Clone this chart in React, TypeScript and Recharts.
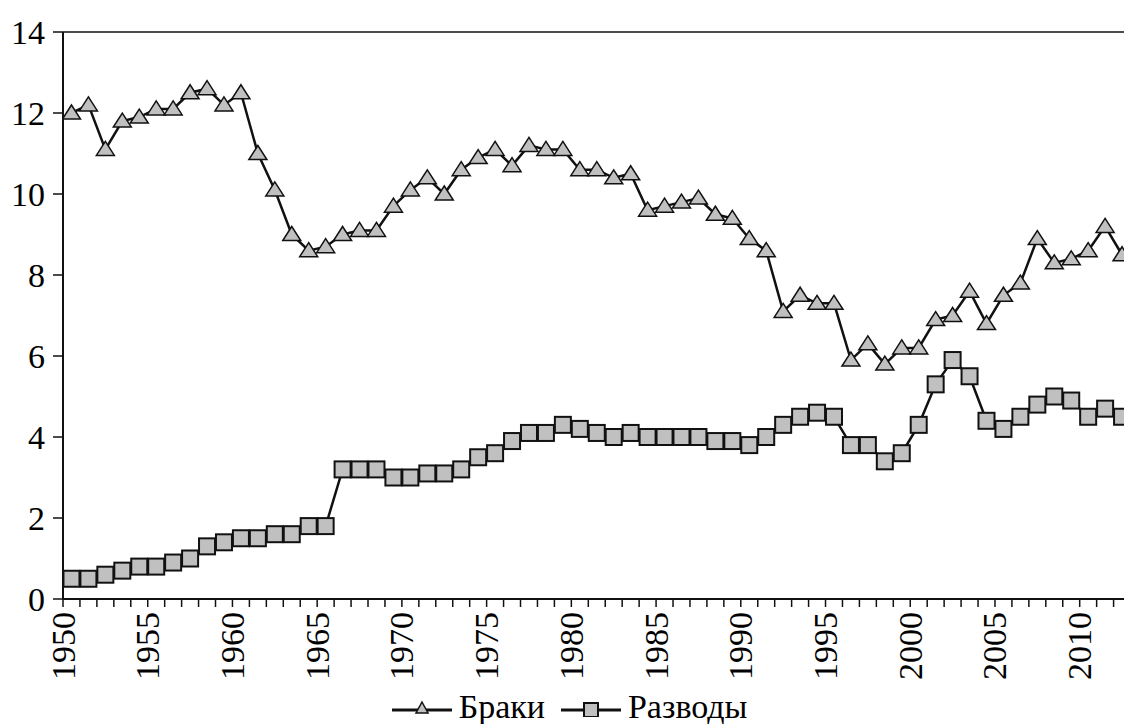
import { LineChart, Line, XAxis, YAxis, ReferenceLine, Legend } from "recharts";

const years = [
  1950, 1951, 1952, 1953, 1954, 1955, 1956, 1957, 1958, 1959,
  1960, 1961, 1962, 1963, 1964, 1965, 1966, 1967, 1968, 1969,
  1970, 1971, 1972, 1973, 1974, 1975, 1976, 1977, 1978, 1979,
  1980, 1981, 1982, 1983, 1984, 1985, 1986, 1987, 1988, 1989,
  1990, 1991, 1992, 1993, 1994, 1995, 1996, 1997, 1998, 1999,
  2000, 2001, 2002, 2003, 2004, 2005, 2006, 2007, 2008, 2009,
  2010, 2011, 2012,
];

// Браки (marriages) per 1000
const marriages = [
  12.0, 12.2, 11.1, 11.8, 11.9, 12.1, 12.1, 12.5, 12.6, 12.2,
  12.5, 11.0, 10.1, 9.0, 8.6, 8.7, 9.0, 9.1, 9.1, 9.7,
  10.1, 10.4, 10.0, 10.6, 10.9, 11.1, 10.7, 11.2, 11.1, 11.1,
  10.6, 10.6, 10.4, 10.5, 9.6, 9.7, 9.8, 9.9, 9.5, 9.4,
  8.9, 8.6, 7.1, 7.5, 7.3, 7.3, 5.9, 6.3, 5.8, 6.2,
  6.2, 6.9, 7.0, 7.6, 6.8, 7.5, 7.8, 8.9, 8.3, 8.4,
  8.6, 9.2, 8.5,
];

// Разводы (divorces) per 1000
const divorces = [
  0.5, 0.5, 0.6, 0.7, 0.8, 0.8, 0.9, 1.0, 1.3, 1.4,
  1.5, 1.5, 1.6, 1.6, 1.8, 1.8, 3.2, 3.2, 3.2, 3.0,
  3.0, 3.1, 3.1, 3.2, 3.5, 3.6, 3.9, 4.1, 4.1, 4.3,
  4.2, 4.1, 4.0, 4.1, 4.0, 4.0, 4.0, 4.0, 3.9, 3.9,
  3.8, 4.0, 4.3, 4.5, 4.6, 4.5, 3.8, 3.8, 3.4, 3.6,
  4.3, 5.3, 5.9, 5.5, 4.4, 4.2, 4.5, 4.8, 5.0, 4.9,
  4.5, 4.7, 4.5,
];

const yTicks = [0, 2, 4, 6, 8, 10, 12, 14];

const data = years.map((year, i) => ({ year, marriages: marriages[i], divorces: divorces[i] }));

// tick marks sit between the yearly points
const xTicks = years.map((y) => y - 0.5);

const FONT = "Liberation Serif, Times New Roman, Times, DejaVu Serif, Noto Serif, serif";
const GREY = "#c0c0c0";

const Triangle = ({ cx, cy }: { cx: number; cy: number }) => (
  <polygon
    points={`${cx},${cy - 8} ${cx + 9},${cy + 6} ${cx - 9},${cy + 6}`}
    fill={GREY}
    stroke="#111"
    strokeWidth={1.5}
  />
);

const Square = ({ cx, cy }: { cx: number; cy: number }) => (
  <rect x={cx - 8} y={cy - 8} width={16} height={16} fill={GREY} stroke="#111" strokeWidth={2} />
);

const XTick = ({ x, y, payload }: any) => {
  const yr = Math.round(payload.value + 0.5);
  if (yr % 5 !== 0) return <g />;
  return (
    <text
      transform={`translate(${x},${y}) rotate(-90)`}
      textAnchor="end"
      dominantBaseline="central"
      style={{ fontFamily: FONT }}
      fontSize={34}
      fill="#000"
    >
      {yr}
    </text>
  );
};

const LegendContent = () => (
  <div
    style={{
      display: "flex",
      alignItems: "center",
      justifyContent: "center",
      height: 35,
      lineHeight: "34px",
      fontFamily: FONT,
      fontSize: 34,
      color: "#000",
    }}
  >
    <svg width={60} height={20}>
      <line x1={0} y1={13} x2={60} y2={13} stroke="#111" strokeWidth={3} />
      <polygon points="30,5 36,16 24,16" fill={GREY} stroke="#111" strokeWidth={1.5} />
    </svg>
    <span style={{ marginLeft: 7, marginRight: 16 }}>Браки</span>
    <svg width={60} height={20}>
      <line x1={0} y1={13} x2={60} y2={13} stroke="#111" strokeWidth={3} />
      <rect x={23} y={6} width={14} height={14} fill={GREY} stroke="#111" strokeWidth={2} />
    </svg>
    <span style={{ marginLeft: 7 }}>Разводы</span>
  </div>
);

export default function App() {
  return (
    <div style={{ position: "absolute", left: 0, top: 0, width: 1124, height: 724, overflow: "hidden", background: "#fff" }}>
      <LineChart width={1139} height={724} data={data} margin={{ top: 32, right: 0, left: 0, bottom: 0 }}>
        <XAxis
          dataKey="year"
          type="number"
          domain={[1949.5, 2013]}
          ticks={xTicks}
          interval={0}
          height={90}
          axisLine={{ stroke: "#111", strokeWidth: 2 }}
          tickLine={{ stroke: "#111", strokeWidth: 1.5 }}
          tickSize={8}
          tickMargin={5}
          tick={<XTick />}
          allowDataOverflow
        />
        <YAxis
          domain={[0, 14]}
          ticks={yTicks}
          width={63}
          axisLine={{ stroke: "#111", strokeWidth: 2 }}
          tickLine={{ stroke: "#111", strokeWidth: 1.5 }}
          tickSize={10}
          tickMargin={8}
          tick={{ fontFamily: FONT, fontSize: 34, fill: "#000" }}
        />
        <ReferenceLine y={14} stroke="#111" strokeWidth={1.5} />
        <Legend verticalAlign="bottom" content={<LegendContent />} wrapperStyle={{ left: 0, width: 1139 }} />
        <Line
          dataKey="marriages"
          name="Браки"
          stroke="#111"
          strokeWidth={2.5}
          isAnimationActive={false}
          dot={(p: any) => <Triangle key={`t-${p.index}`} cx={p.cx} cy={p.cy} />}
        />
        <Line
          dataKey="divorces"
          name="Разводы"
          stroke="#111"
          strokeWidth={2.5}
          isAnimationActive={false}
          dot={(p: any) => <Square key={`s-${p.index}`} cx={p.cx} cy={p.cy} />}
        />
      </LineChart>
    </div>
  );
}
